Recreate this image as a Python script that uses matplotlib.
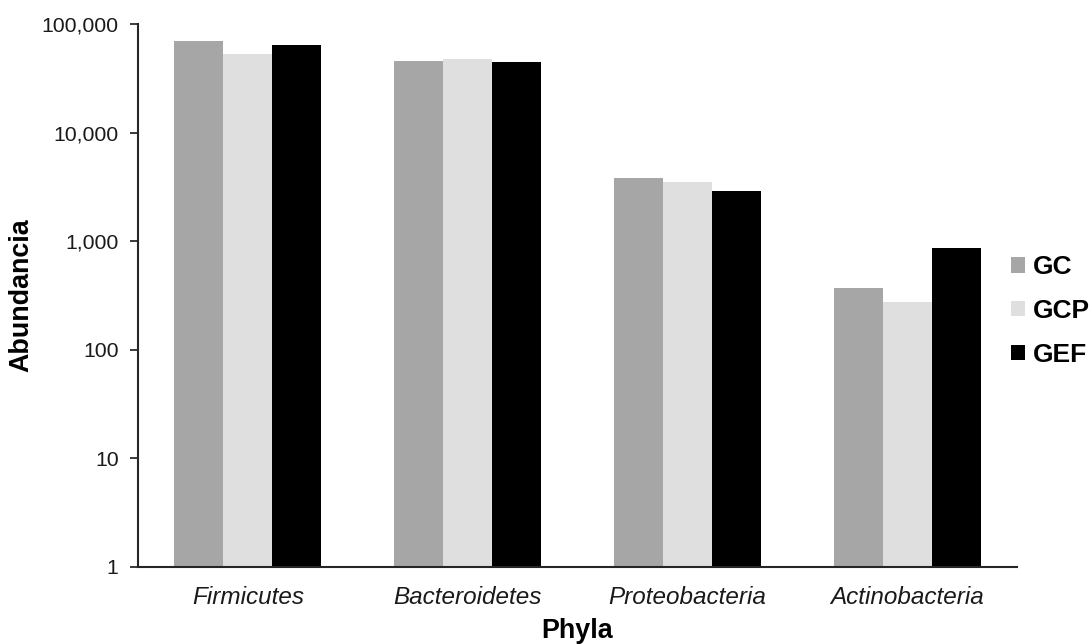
import numpy as np
import matplotlib
matplotlib.use("Agg")
import matplotlib.pyplot as plt
from matplotlib.ticker import FixedLocator, FuncFormatter, NullLocator
from matplotlib.patches import Patch

plt.rcParams['font.family'] = ['Liberation Sans', 'DejaVu Sans']

# Data
phyla = ['Firmicutes', 'Bacteroidetes', 'Proteobacteria', 'Actinobacteria']
groups = ['GC', 'GCP', 'GEF']
gc = [69700, 45600, 3820, 368]
gcp = [53000, 47600, 3510, 277]
gef = [64100, 44700, 2900, 861]
colors = ['#A6A6A6', '#DFDFDF', '#000000']

fig = plt.figure(figsize=(10.92, 6.44), dpi=100)
ax = fig.add_axes([0.1264, 0.1196, 0.8049, 0.8431])

x = np.arange(len(phyla))
w = 0.2227
for i, (vals, c) in enumerate(zip([gc, gcp, gef], colors)):
    ax.bar(x + (i - 1) * w, vals, width=w, color=c, edgecolor='none', zorder=2)

# Axes
ax.set_yscale('log')
ax.set_ylim(1, 100000)
ax.set_xlim(-0.5, len(phyla) - 0.5)
ax.yaxis.set_major_locator(FixedLocator([1, 10, 100, 1000, 10000, 100000]))
ax.yaxis.set_minor_locator(NullLocator())
ax.yaxis.set_major_formatter(FuncFormatter(lambda v, p: f'{v:,.0f}'))
ax.set_xticks(x)
ax.set_xticklabels(phyla, style='italic', fontsize=17.5, color='#1a1a1a')
ax.tick_params(axis='x', length=0, pad=14)
ax.tick_params(axis='y', length=6, width=1.2, direction='out', labelsize=15.3,
               colors='#1a1a1a', pad=8)

for s in ['top', 'right']:
    ax.spines[s].set_visible(False)
for s in ['left', 'bottom']:
    ax.spines[s].set_linewidth(1.5)
    ax.spines[s].set_color('#262626')

ax.set_ylabel('Abundancia', fontsize=19.4, fontweight='bold', labelpad=5)
ax.set_xlabel('Phyla', fontsize=19.4, fontweight='bold', labelpad=6)

# Legend
handles = [Patch(facecolor=c, edgecolor='none', label=g) for g, c in zip(groups, colors)]
fig.legend(handles=handles, loc='center left', bbox_to_anchor=(0.904, 0.517),
           frameon=False, prop={'weight': 'bold', 'size': 19},
           handlelength=0.53, handleheight=0.53, handletextpad=0.3,
           labelspacing=0.75)

fig.savefig('out.png', dpi=100)
